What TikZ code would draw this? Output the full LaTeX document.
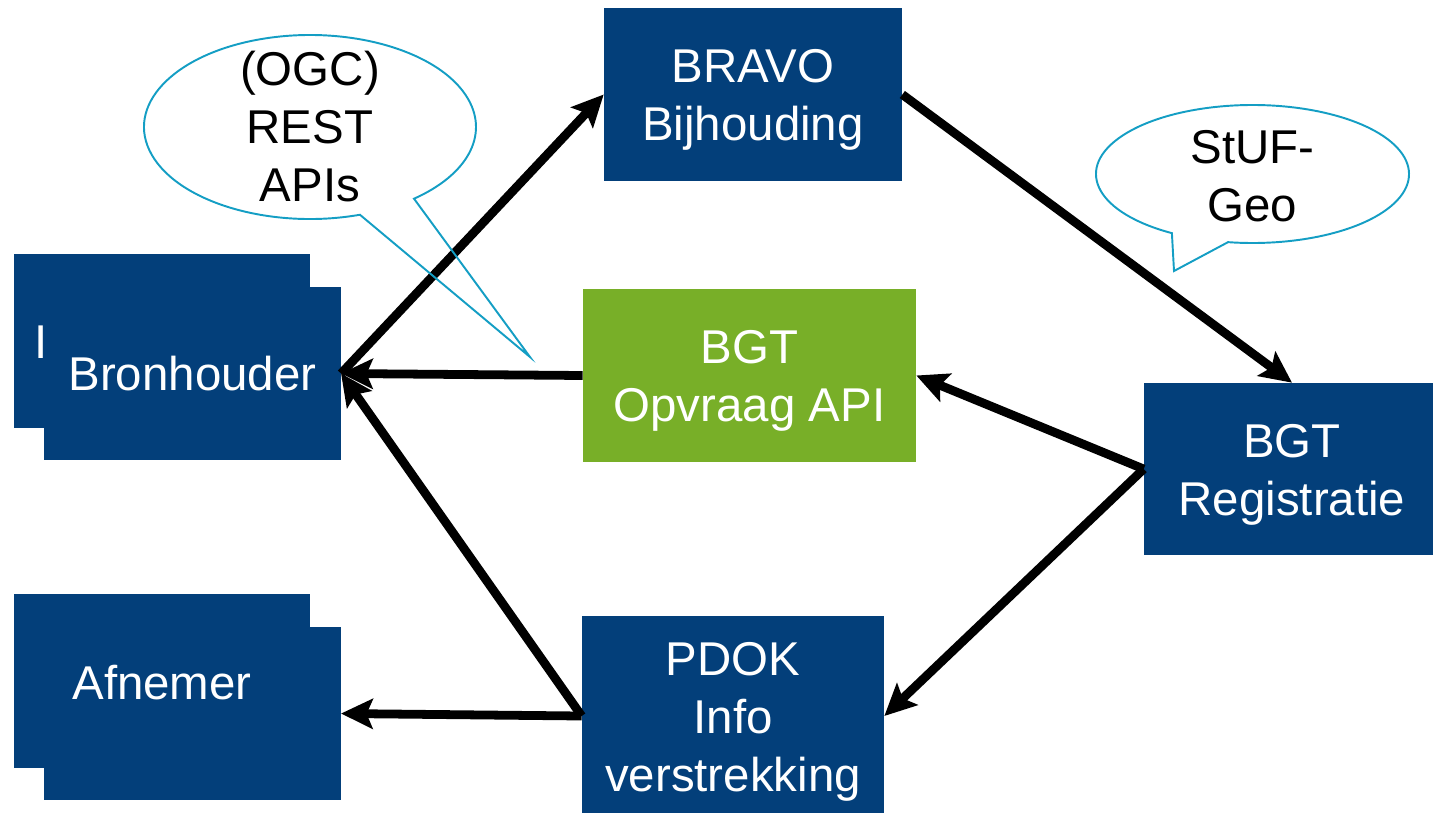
\documentclass[tikz,border=0pt]{standalone}
\usepackage{fontspec}
\setmainfont{Liberation Sans}
\usepackage{tikz}
\usetikzlibrary{arrows.meta}
\definecolor{bgtblue}{RGB}{3,63,122}
\definecolor{bgtgreen}{RGB}{120,175,40}
\definecolor{bubblecyan}{RGB}{20,158,196}
% box text sits a little below the middle of its box
\newcommand{\boxlines}[1]{\raisebox{-0.11cm}[\height][\depth]{\begin{tabular}{@{}c@{}}#1\end{tabular}}}

\begin{document}
\begin{tikzpicture}[x=0.02cm,y=-0.02cm,
    box/.style={fill=bgtblue, text=white, inner sep=0pt, align=center,
        font=\fontsize{27}{33}\selectfont},
    stack/.style={box, minimum width=5.93cm, minimum height=3.47cm},
    flow/.style={line width=5pt, -{Stealth[length=18pt, width=17pt, inset=3.5pt]}},
    bubble/.style={draw=bubblecyan, line width=1.1pt},
    bubbletext/.style={align=center, font=\fontsize{27}{33}\selectfont}]
    \useasboundingbox (0,0) rectangle (1433,812);
% boxes
\node[box, minimum width=5.96cm, minimum height=3.46cm] (bravo) at (753,94.5) {\boxlines{BRAVO\\Bijhouding}};
\node[box, fill=bgtgreen, minimum width=6.66cm, minimum height=3.46cm] (opvraag) at (749.5,375.5) {\boxlines{BGT\\Opvraag API}};
\node[box, minimum width=5.92cm, minimum height=3.44cm] (reg) at (1292,469) {\boxlines{BGT\\Registratie}};
\node[box, minimum width=6.04cm, minimum height=4cm] (pdok) at (733,716) {\boxlines{PDOK\\Info\\verstrekking}};
\node[stack] (bron0) at (162,341) {};
\node[box] (bron0txt) at (41,342) {I};
\node[stack] (bron) at (192.5,373.5) {Bronhouder};
\node[stack] (afn0) at (162,681) {};
\node[stack] (afn) at (192.5,713.5) {};
\node[box, fill=none] (afntxt) at (162,683) {Afnemer};
% arrows
\draw[flow] (bron.east) -- (bravo.west);
\draw[flow] (bravo.east) -- (reg.north);
\draw[flow] (opvraag.west) -- (bron.east);
\draw[flow] (reg.west) -- (opvraag.east);
\draw[flow] (reg.west) -- (pdok.east);
\draw[flow] (pdok.west) -- (afn.east);
\draw[flow] (pdok.west) -- (bron.east);
% callouts
\draw[bubble] (310,127) ++(72.5:166 and 92) arc[start angle=72.5, end angle=411.2, x radius=166, y radius=92] -- (530,357) -- cycle;
\node[bubbletext] (ogc) at (310,127) {(OGC)\\REST\\APIs};
\draw[bubble] (1252.5,174) ++(121:156.5 and 69) arc[start angle=121, end angle=459, x radius=156.5, y radius=69] -- (1174,271) -- cycle;
\node[bubbletext] (stuf) at (1252.5,176) {StUF-\\Geo};
\end{tikzpicture}
\end{document}
